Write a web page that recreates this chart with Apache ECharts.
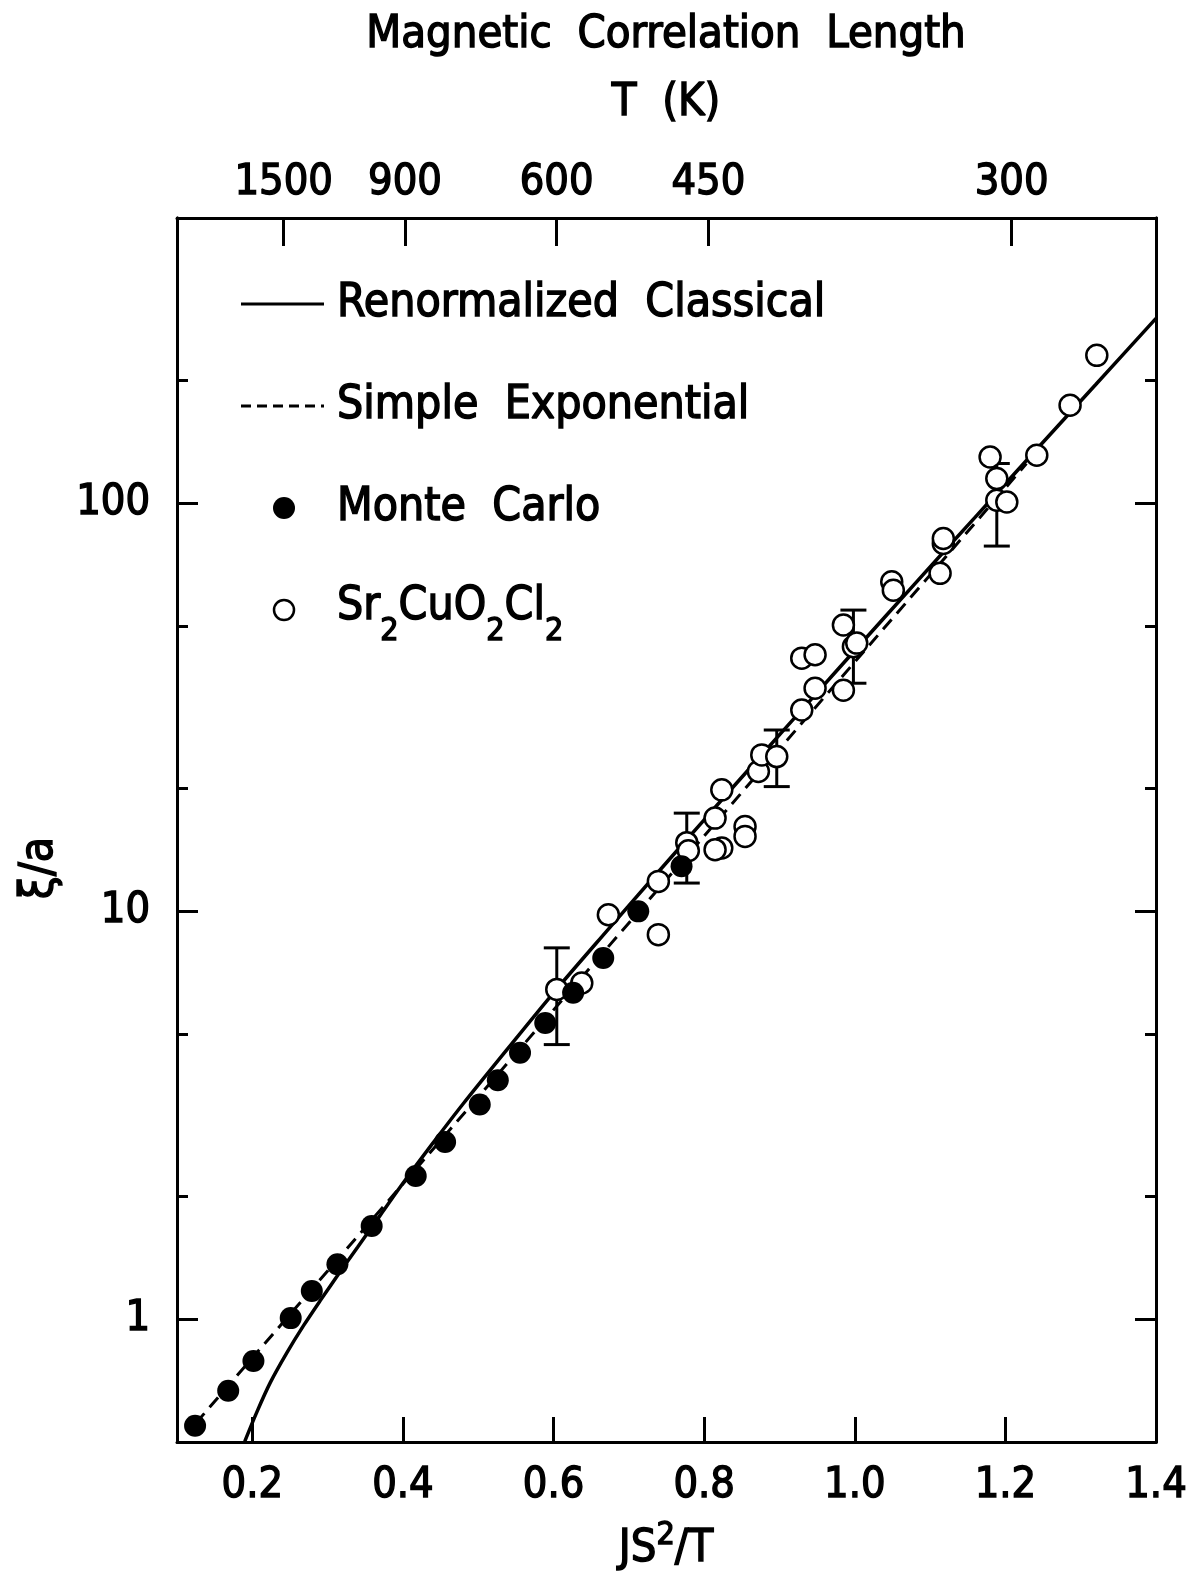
<!DOCTYPE html>
<html>
<head>
<meta charset="utf-8">
<script src="https://cdn.jsdelivr.net/npm/echarts@6/dist/echarts.min.js"></script>
<style>
  html, body { margin: 0; padding: 0; background: #fff; }
  #chart { width: 1199px; height: 1571px; }
</style>
</head>
<body>
<div id="chart"></div>
<script>
const FONT = "'DejaVu Sans Condensed', 'DejaVu Sans', sans-serif";

// Renormalized classical prediction, xi/a against JS^2/T
const rcX = [0.190, 0.206, 0.224, 0.246, 0.268, 0.290, 0.315, 0.340, 0.370, 0.400, 0.440, 0.480, 0.540,
             0.600, 0.670, 0.730, 0.800, 0.870, 0.940, 1.000, 1.080, 1.160, 1.240, 1.320, 1.400];
const rcY = [0.502, 0.592, 0.700, 0.828, 0.964, 1.109, 1.294, 1.503, 1.799, 2.153, 2.704, 3.373, 4.624,
             6.310, 8.913, 11.94, 16.75, 23.44, 32.73, 43.55, 63.53, 92.47, 134.6, 195.4, 283.8];

// Simple exponential: a straight line on the log scale, drawn between its two ends
const expX = [0.125, 1.228];
const expY = [0.556, 125.0];

// Monte Carlo results
const mcX = [0.124, 0.168, 0.2015, 0.251, 0.279, 0.313, 0.3585, 0.417, 0.456, 0.502, 0.526, 0.5555,
             0.589, 0.626, 0.666, 0.7125, 0.770];
const mcY = [0.548, 0.668, 0.790, 1.006, 1.173, 1.364, 1.692, 2.244, 2.717, 3.36, 3.85, 4.50,
             5.32, 6.31, 7.68, 9.99, 12.88];

// Sr2CuO2Cl2 measurements
const srX = [0.6043, 0.6375, 0.6728, 0.7392, 0.7392, 0.7769, 0.779, 0.8145, 0.8234, 0.8145, 0.8543, 0.8543,
             0.8234, 0.872, 0.8765, 0.8964, 0.9296, 0.9473, 0.9296, 0.9473, 0.9849, 0.9849, 0.9982, 1.0026,
             1.0491, 1.0512, 1.1176, 1.1176, 1.1133, 1.1797, 1.1886, 1.1886, 1.2019, 1.2417, 1.2859, 1.3214];
const srY = [6.43, 6.67, 9.80, 8.76, 11.83, 14.72, 14.06, 16.91, 14.28, 14.15, 16.13, 15.25,
             19.83, 21.99, 24.16, 23.93, 31.13, 35.2, 41.7, 42.5, 34.8, 50.3, 44.5, 45.4,
             64.2, 61.2, 79.7, 81.9, 67.3, 129.8, 114.9, 101.7, 100.7, 131.1, 173.8, 230.3];

// Error bars on selected Sr2CuO2Cl2 points
const errX    = [0.6043, 0.7769, 0.8964, 0.9982, 1.1886];
const errLow  = [4.71, 11.72, 20.2, 36.2, 78.5];
const errHigh = [8.13, 17.39, 27.8, 54.7, 125.1];

// Axis ticks
const xTicks = [0.2, 0.4, 0.6, 0.8, 1.0, 1.2, 1.4];
const tempTicks = [1500, 900, 600, 450, 300];   // T (K) on the top axis
const JS2 = 362.5;                               // J S^2 in kelvin
const yMajor = [1, 10, 100];
const yMinor = [2, 5, 20, 50, 200];

const tempPos = tempTicks.map(t => JS2 / t);
const BLACK = '#000';
const axisLine = { show: true, onZero: false, lineStyle: { color: BLACK, width: 3 } };
// thin outline that thickens the glyph strokes a little
const heavy = { textBorderColor: BLACK, textBorderWidth: 1.4 };

function xAxisDef(position, ticks, tickLen, labelFmt, margin) {
  return {
    type: 'value', position, min: 0.1, max: 1.4,
    axisLine,
    splitLine: { show: false },
    axisTick: { show: true, inside: true, length: tickLen, customValues: ticks,
                lineStyle: { color: BLACK, width: 3 } },
    axisLabel: Object.assign({ show: true, customValues: ticks, formatter: labelFmt, margin,
                 color: BLACK, fontSize: 43, fontFamily: FONT }, heavy)
  };
}

function yAxisDef(position, ticks, tickLen, withLabels) {
  return {
    type: 'log', logBase: 10, position, min: 0.5, max: 500,
    axisLine,
    splitLine: { show: false },
    minorTick: { show: false },
    axisTick: { show: true, inside: true, length: tickLen, customValues: ticks,
                lineStyle: { color: BLACK, width: 3 } },
    axisLabel: withLabels
      ? Object.assign({ show: true, customValues: ticks, formatter: v => String(Math.round(v)), margin: 27,
          color: BLACK, fontSize: 43, fontFamily: FONT }, heavy)
      : { show: false }
  };
}

function label(text, x, y, size, extra) {
  return Object.assign({
    type: 'text', x, y,
    style: { text, fill: BLACK, stroke: BLACK, lineWidth: 1.4, fontSize: size, fontFamily: FONT,
             align: 'left', verticalAlign: 'middle' }
  }, extra || {});
}

const chart = echarts.init(document.getElementById('chart'), null, { renderer: 'canvas' });

const legendY = [304, 406, 508, 610];
const legendTextX = 337;

const title = label('Magnetic  Correlation  Length', 666, 35, 45);
title.style.align = 'center';
const tLabel = label('T  (K)', 666, 103, 45);
tLabel.style.align = 'center';
const yName = label('ξ/a', 40, 868, 46, { rotation: Math.PI / 2 });
yName.style.align = 'center';

chart.setOption({
  animation: false,
  backgroundColor: '#fff',
  grid: { left: 177, right: 43, top: 218, bottom: 129, containLabel: false },
  xAxis: [
    xAxisDef('bottom', xTicks, 25, v => v.toFixed(1), 22),
    xAxisDef('top', tempPos, 28, v => {
      let best = tempTicks[0];
      tempTicks.forEach(t => { if (Math.abs(JS2 / t - v) < Math.abs(JS2 / best - v)) best = t; });
      return String(best);
    }, 14)
  ],
  yAxis: [
    yAxisDef('left', yMajor, 21, true),
    yAxisDef('left', yMinor, 11, false),
    yAxisDef('right', yMajor, 21, false),
    yAxisDef('right', yMinor, 11, false)
  ],
  series: [
    {
      name: 'error bars', type: 'custom', xAxisIndex: 0, yAxisIndex: 0, z: 1,
      data: errX.map((x, i) => [x, errLow[i], errHigh[i]]),
      encode: { x: 0, y: [1, 2] },
      renderItem(params, api) {
        const x = api.value(0);
        const top = api.coord([x, api.value(2)]);
        const bot = api.coord([x, api.value(1)]);
        const w = 13;
        const st = { stroke: BLACK, lineWidth: 3 };
        return {
          type: 'group',
          children: [
            { type: 'line', shape: { x1: top[0], y1: top[1], x2: bot[0], y2: bot[1] }, style: st },
            { type: 'line', shape: { x1: top[0] - w, y1: top[1], x2: top[0] + w, y2: top[1] }, style: st },
            { type: 'line', shape: { x1: bot[0] - w, y1: bot[1], x2: bot[0] + w, y2: bot[1] }, style: st }
          ]
        };
      }
    },
    {
      name: 'Renormalized Classical', type: 'line', z: 2, showSymbol: false, smooth: 0.3,
      data: rcX.map((x, i) => [x, rcY[i]]),
      lineStyle: { color: BLACK, width: 3.5 }
    },
    {
      name: 'Simple Exponential', type: 'line', z: 2, showSymbol: false,
      data: expX.map((x, i) => [x, expY[i]]),
      lineStyle: { color: BLACK, width: 3, type: [13, 8] }
    },
    {
      name: 'Sr2CuO2Cl2', type: 'scatter', z: 3, symbol: 'circle', symbolSize: 21,
      data: srX.map((x, i) => [x, srY[i]]),
      itemStyle: { color: '#fff', borderColor: BLACK, borderWidth: 2.5, opacity: 1 }
    },
    {
      name: 'Monte Carlo', type: 'scatter', z: 4, symbol: 'circle', symbolSize: 22,
      data: mcX.map((x, i) => [x, mcY[i]]),
      itemStyle: { color: BLACK, opacity: 1 }
    }
  ],
  graphic: [
    title,
    tLabel,
    { type: 'text', x: 666, y: 1546, style: { text: '{m|JS}{s|2}{m|/T}', fill: BLACK, stroke: BLACK, lineWidth: 1.4,
      align: 'center', verticalAlign: 'middle',
      rich: {
        m: { fontSize: 45, fontFamily: FONT, lineHeight: 52, verticalAlign: 'bottom' },
        s: { fontSize: 32, fontFamily: FONT, lineHeight: 30, verticalAlign: 'top' }
      } } },
    yName,

    // Legend
    { type: 'line', shape: { x1: 241, y1: legendY[0], x2: 324, y2: legendY[0] },
      style: { stroke: BLACK, lineWidth: 3 } },
    label('Renormalized  Classical', legendTextX, legendY[0], 46),
    { type: 'line', shape: { x1: 241, y1: legendY[1], x2: 324, y2: legendY[1] },
      style: { stroke: BLACK, lineWidth: 3, lineDash: [10, 6] } },
    label('Simple  Exponential', legendTextX, legendY[1], 46),
    { type: 'circle', shape: { cx: 284, cy: legendY[2], r: 11 }, style: { fill: BLACK } },
    label('Monte  Carlo', legendTextX, legendY[2], 46),
    { type: 'circle', shape: { cx: 284, cy: legendY[3], r: 10 },
      style: { fill: '#fff', stroke: BLACK, lineWidth: 2.5 } },
    { type: 'text', x: legendTextX, y: legendY[3] + 6, style: {
      text: '{m|Sr}{s|2}{m|CuO}{s|2}{m|Cl}{s|2}', fill: BLACK, stroke: BLACK, lineWidth: 1.4,
      align: 'left', verticalAlign: 'middle',
      rich: {
        m: { fontSize: 46, fontFamily: FONT, lineHeight: 64, verticalAlign: 'top' },
        s: { fontSize: 32, fontFamily: FONT, lineHeight: 34, verticalAlign: 'bottom' }
      } } }
  ]
});
</script>
</body>
</html>
